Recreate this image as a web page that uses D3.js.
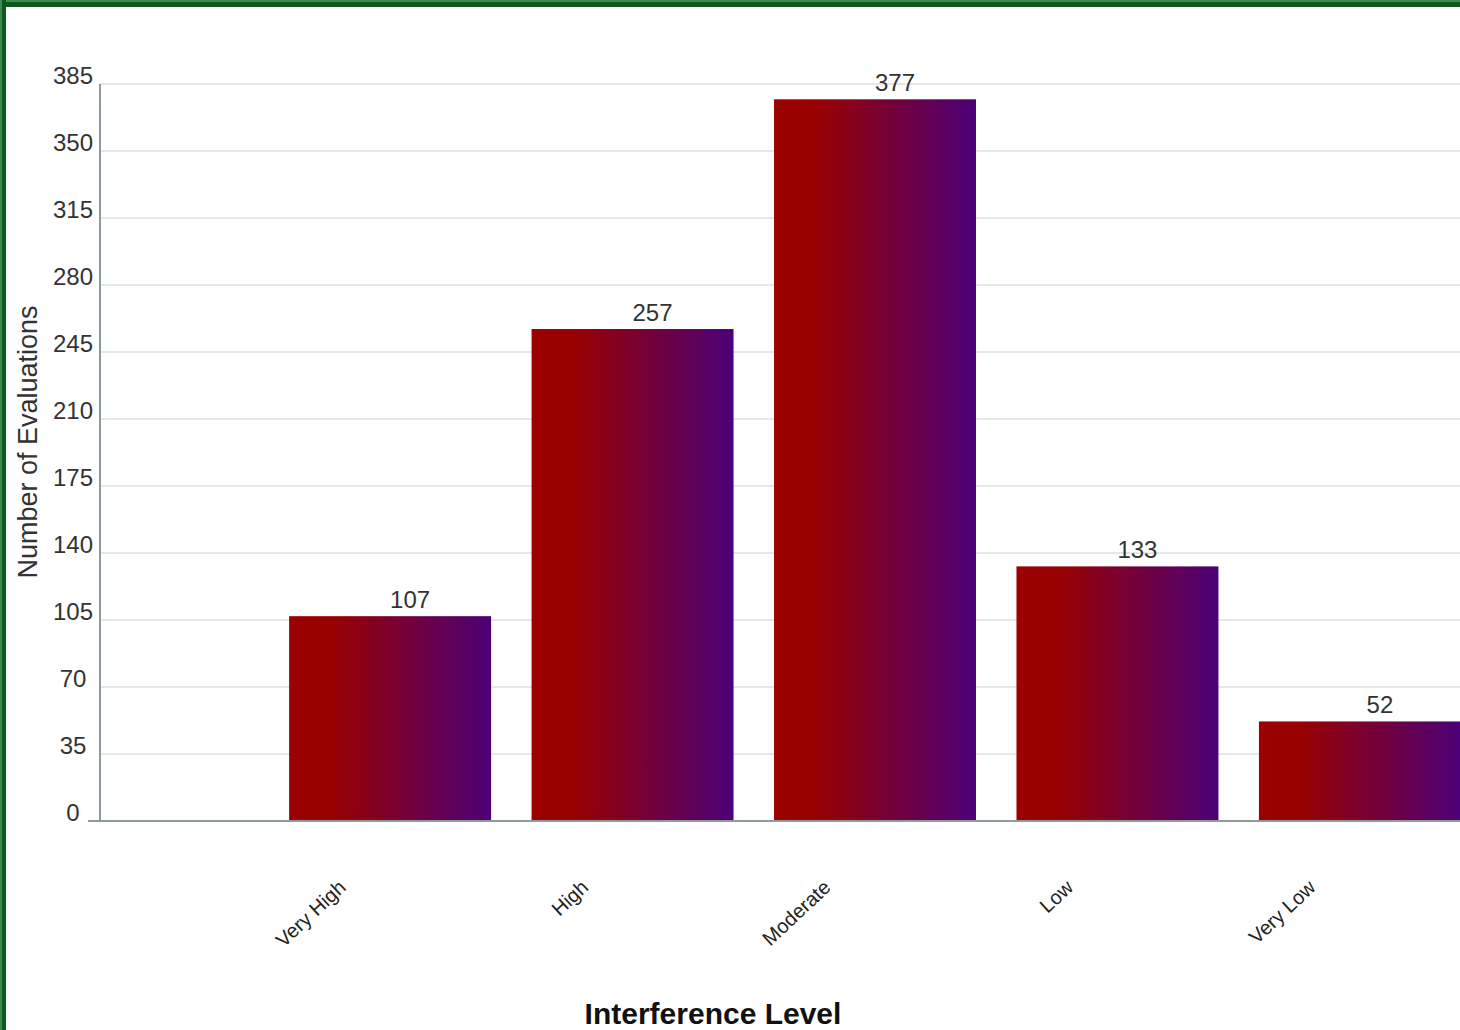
<!DOCTYPE html>
<html><head><meta charset="utf-8">
<script src="https://cdn.jsdelivr.net/npm/d3@7"></script>
<style>html,body{margin:0;padding:0;background:#fff;overflow:hidden}</style>
</head><body>
<script>
const categories = ["Very High", "High", "Moderate", "Low", "Very Low"];
const values = [107, 257, 377, 133, 52];
const yTicks = [0, 35, 70, 105, 140, 175, 210, 245, 280, 315, 350, 385];
const yTitle = "Number of Evaluations";
const xTitle = "Interference Level";

const W = 1460, H = 1030;
const svg = d3.select("body").append("svg").attr("width", W).attr("height", H)
  .style("font-family", "'Liberation Sans', Arial, sans-serif");

const defs = svg.append("defs");
const grad = defs.append("linearGradient").attr("id", "barGrad")
  .attr("x1", "0%").attr("x2", "100%").attr("y1", "0%").attr("y2", "0%");
grad.append("stop").attr("offset", "0%").attr("stop-color", "#9c0000");
grad.append("stop").attr("offset", "20%").attr("stop-color", "#990000");
grad.append("stop").attr("offset", "100%").attr("stop-color", "#4c0078");

const x0 = 100, y0 = 821, yTop = 84;
const x = d3.scaleBand().domain(categories).range([x0, 1650])
  .paddingInner(0.167).paddingOuter(0.78);
const y = d3.scaleLinear().domain([0, 385]).range([y0, yTop]);

// gridlines
svg.append("g").selectAll("line").data(yTicks.filter(t => t > 0)).join("line")
  .attr("x1", x0).attr("x2", W).attr("y1", d => y(d)).attr("y2", d => y(d))
  .attr("stroke", "#d0d0d0").attr("stroke-width", 1.2);

// y tick labels
svg.append("g").selectAll("text").data(yTicks).join("text")
  .attr("x", 73).attr("y", d => y(d) - 0.5)
  .attr("text-anchor", "middle").attr("font-size", 24).attr("fill", "#333")
  .text(d => d);

// bars
svg.append("g").selectAll("rect").data(values).join("rect")
  .attr("x", (d, i) => x(categories[i])).attr("width", x.bandwidth())
  .attr("y", d => y(d)).attr("height", d => y0 - y(d))
  .attr("fill", "url(#barGrad)");

// axes lines
svg.append("line").attr("x1", x0).attr("x2", x0).attr("y1", yTop).attr("y2", y0)
  .attr("stroke", "#8c9a9a").attr("stroke-width", 2);
svg.append("line").attr("x1", 88).attr("x2", W).attr("y1", y0).attr("y2", y0)
  .attr("stroke", "#8c9a9a").attr("stroke-width", 2);

// value labels
svg.append("g").selectAll("text").data(values).join("text")
  .attr("x", (d, i) => x(categories[i]) + x.bandwidth() / 2 + 20)
  .attr("y", d => y(d) - 8)
  .attr("text-anchor", "middle").attr("font-size", 24).attr("fill", "#333")
  .text(d => d);

// x category labels
svg.append("g").selectAll("text").data(categories).join("text")
  .attr("transform", d => `translate(${x(d) + x.bandwidth() / 2 - 43},${889}) rotate(-43)`)
  .attr("text-anchor", "end").attr("font-size", 20).attr("fill", "#222")
  .text(d => d);

// titles
svg.append("text").attr("transform", `translate(37,442) rotate(-90)`)
  .attr("text-anchor", "middle").attr("font-size", 27).attr("fill", "#333")
  .text(yTitle);
svg.append("text").attr("x", 713).attr("y", 1024)
  .attr("text-anchor", "middle").attr("font-size", 30).attr("font-weight", "bold").attr("fill", "#111")
  .text(xTitle);

// green frame
svg.append("rect").attr("x", 0).attr("y", 0).attr("width", W).attr("height", 7).attr("fill", "#0c5a1c");
svg.append("rect").attr("x", 0).attr("y", 0).attr("width", W).attr("height", 2).attr("fill", "#3f8a52");
svg.append("rect").attr("x", 0).attr("y", 0).attr("width", 6).attr("height", H).attr("fill", "#0c5a1c");
svg.append("rect").attr("x", 0).attr("y", 0).attr("width", 2).attr("height", H).attr("fill", "#3f8a52");
</script>
</body></html>
